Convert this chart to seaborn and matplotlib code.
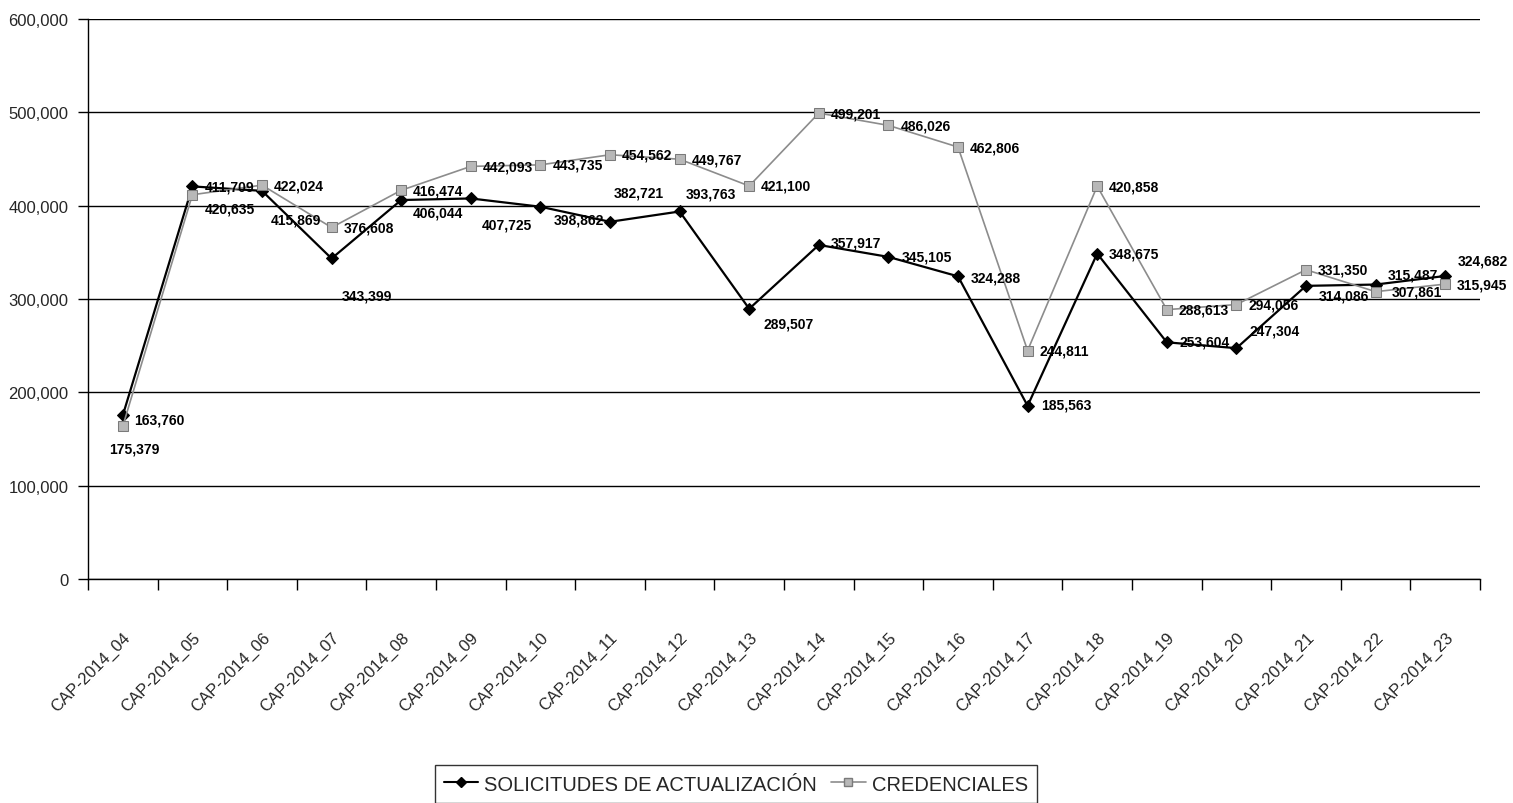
import matplotlib
matplotlib.use("Agg")
import matplotlib.pyplot as plt
import matplotlib.transforms as mtransforms
import seaborn as sns
import pandas as pd
import numpy as np
from matplotlib.ticker import FuncFormatter, MultipleLocator, FixedLocator
from matplotlib.lines import Line2D

categories = ["CAP-2014_04", "CAP-2014_05", "CAP-2014_06", "CAP-2014_07", "CAP-2014_08",
              "CAP-2014_09", "CAP-2014_10", "CAP-2014_11", "CAP-2014_12", "CAP-2014_13",
              "CAP-2014_14", "CAP-2014_15", "CAP-2014_16", "CAP-2014_17", "CAP-2014_18",
              "CAP-2014_19", "CAP-2014_20", "CAP-2014_21", "CAP-2014_22", "CAP-2014_23"]
solicitudes = [175379, 420635, 415869, 343399, 406044, 407725, 398862, 382721, 393763, 289507,
               357917, 345105, 324288, 185563, 348675, 253604, 247304, 314086, 315487, 324682]
credenciales = [163760, 411709, 422024, 376608, 416474, 442093, 443735, 454562, 449767, 421100,
                499201, 486026, 462806, 244811, 420858, 288613, 294056, 331350, 307861, 315945]
series_names = ["SOLICITUDES DE ACTUALIZACIÓN", "CREDENCIALES"]

# label offsets in pixels (layout only)
sol_offsets = [(-14, -33), (12, -22), (9, -29), (10, -37), (12, -12), (11, -26), (13, -13),
               (4, 29), (6, 18), (14, -15), (12, 2), (13, 0), (13, -1), (14, 1), (12, 0),
               (13, 1), (13, 18), (13, -10), (12, 10), (13, 15)]
cred_offsets = [(11, 7), (12, 8)] + [(12, 0)] * 18
cred_offsets[18] = (16, 0)

sns.set_theme(style="white")
NARROW = ["Liberation Sans Narrow", "Liberation Sans", "DejaVu Sans"]
plt.rcParams["font.family"] = NARROW

fig = plt.figure(figsize=(15.13, 8.04), dpi=100)
ax = fig.add_axes([88 / 1513, 1 - 580 / 804, (1480 - 88) / 1513, 560 / 804])

n = len(categories)
df = pd.DataFrame({
    "x": list(range(n)) * 2,
    "value": solicitudes + credenciales,
    "serie": [series_names[0]] * n + [series_names[1]] * n,
})

sns.lineplot(data=df, x="x", y="value", hue="serie", style="serie",
             palette={series_names[0]: "black", series_names[1]: "#8c8c8c"},
             markers={series_names[0]: "D", series_names[1]: "s"},
             dashes=False, sort=False, ax=ax, linewidth=1.6, markersize=7,
             markeredgecolor=None, legend=False)
lines = ax.get_lines()
lines[0].set_markerfacecolor("black"); lines[0].set_markeredgecolor("black"); lines[0].set_markersize(6)
lines[1].set_markerfacecolor("#b8b8b8"); lines[1].set_markeredgecolor("#7a7a7a"); lines[1].set_linewidth(1.2)

for i in range(n):
    ax.annotate(f"{solicitudes[i]:,}", (i, solicitudes[i]), xytext=sol_offsets[i],
                textcoords="offset pixels", ha="left", va="center", fontsize=10,
                fontweight="bold", color="black")
    ax.annotate(f"{credenciales[i]:,}", (i, credenciales[i]), xytext=cred_offsets[i],
                textcoords="offset pixels", ha="left", va="center", fontsize=10,
                fontweight="bold", color="black")

ax.set_xlim(-0.5, n - 0.5)
ax.set_ylim(0, 600000)
ax.yaxis.set_major_locator(MultipleLocator(100000))
ax.yaxis.set_major_formatter(FuncFormatter(lambda v, p: f"{int(v):,}"))
ax.grid(axis="y", color="black", linewidth=1)
ax.set_axisbelow(True)

ax.set_xticks(range(n))
ax.set_xticklabels(categories, rotation=45, ha="right", rotation_mode="anchor", fontsize=12)
shift = mtransforms.ScaledTranslation(-15 / 100, 0, fig.dpi_scale_trans)
for lab in ax.get_xticklabels():
    lab.set_transform(lab.get_transform() + shift)
ax.xaxis.set_minor_locator(FixedLocator(np.arange(-0.5, n, 1.0)))
ax.tick_params(axis="x", which="major", length=0, pad=36)
ax.tick_params(axis="x", which="minor", length=8, width=1, color="black", direction="out", bottom=True)
ax.tick_params(axis="y", which="major", length=7, width=1, color="black", direction="out",
               left=True, labelsize=12, pad=7)
ax.set_xlabel("")
ax.set_ylabel("")
for s in ["top", "right"]:
    ax.spines[s].set_visible(False)
for s in ["left", "bottom"]:
    ax.spines[s].set_color("black")
    ax.spines[s].set_linewidth(1)

handles = [Line2D([], [], color="black", marker="D", markersize=5, linewidth=1.5),
           Line2D([], [], color="#8c8c8c", marker="s", markersize=6, markerfacecolor="#b8b8b8",
                  markeredgecolor="#7a7a7a", linewidth=1.2)]
leg = ax.legend(handles, series_names, loc="upper center", bbox_to_anchor=(0.4655, -0.333),
                ncol=2, frameon=True, fancybox=False, fontsize=14.5, handlelength=1.7,
                handletextpad=0.3, columnspacing=0.7, borderpad=0.45, borderaxespad=0)
leg.get_frame().set_edgecolor("black")
leg.get_frame().set_linewidth(1)

fig.savefig("out.png", dpi=100)
